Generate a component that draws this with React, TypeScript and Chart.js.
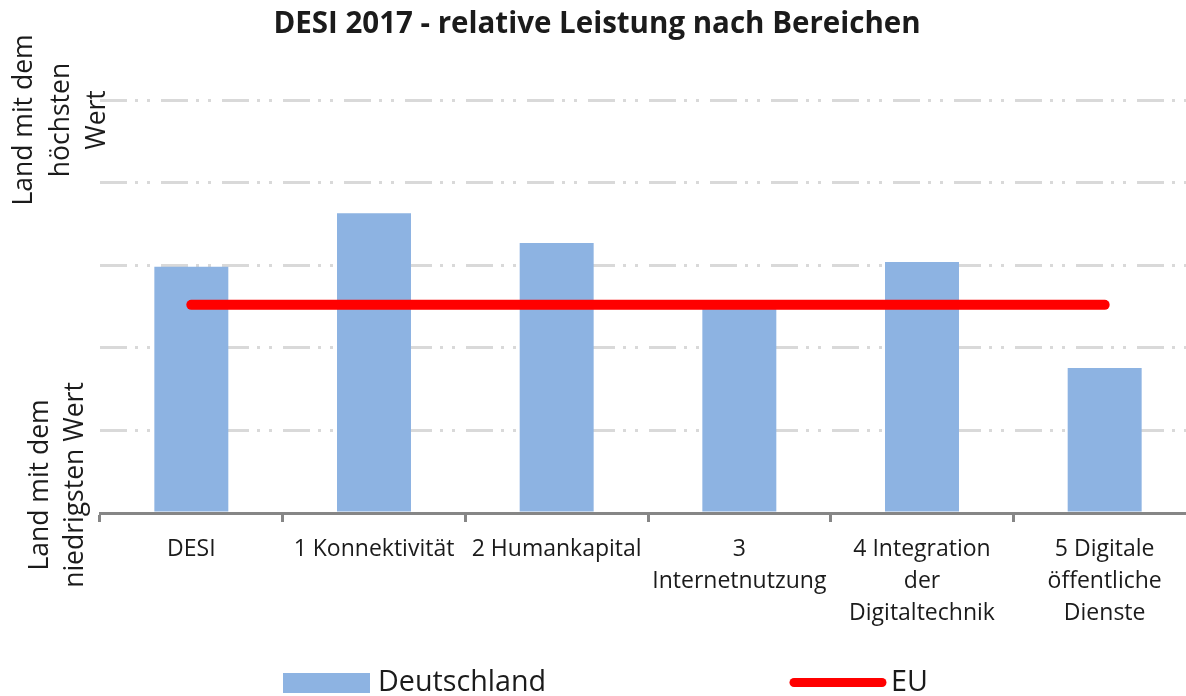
import React, { useEffect, useRef } from "react";
import { Chart, registerables } from "chart.js";

Chart.register(...registerables);

const chartTitle = "DESI 2017 - relative Leistung nach Bereichen";
const categories: string[][] = [
  ["DESI"],
  ["1 Konnektivität"],
  ["2 Humankapital"],
  ["3", "Internetnutzung"],
  ["4 Integration", "der", "Digitaltechnik"],
  ["5 Digitale", "öffentliche", "Dienste"],
];
const seriesNames = ["Deutschland", "EU"];
const deutschlandValues = [0.596, 0.726, 0.654, 0.497, 0.608, 0.351];
const euValues = [0.504, 0.504, 0.504, 0.504, 0.504, 0.504];
const yTopLabel = ["Land mit dem", "höchsten", "Wert"];
const yBottomLabel = ["Land mit dem", "niedrigsten Wert"];
const yTicks = [0, 0.2, 0.4, 0.6, 0.8, 1.0];

const BAR_COLOR = "#8db3e2";
const LINE_COLOR = "#ff0000";
const TEXT_COLOR = "#1b1b1b";
const AXIS_COLOR = "#868686";
const GRID_COLOR = "#d9d9d9";
const FONT = "'Open Sans', Lato, sans-serif";

const decorPlugin = {
  id: "decor",
  afterDraw(chart: any) {
    const ctx: CanvasRenderingContext2D = chart.ctx;
    const y = chart.scales.y;
    ctx.save();
    ctx.fillStyle = TEXT_COLOR;

    // title
    ctx.font = `bold 29.5px ${FONT}`;
    ctx.textAlign = "center";
    ctx.textBaseline = "alphabetic";
    ctx.fillText(chartTitle, 597, 33);

    // rotated y labels
    const drawRotated = (lines: string[], cy: number, x0: number, lh: number) => {
      ctx.font = `26.5px ${FONT}`;
      lines.forEach((line, i) => {
        ctx.save();
        ctx.translate(x0 + i * lh, cy);
        ctx.rotate(-Math.PI / 2);
        ctx.textAlign = "center";
        ctx.textBaseline = "alphabetic";
        ctx.fillText(line, 0, 0);
        ctx.restore();
      });
    };
    drawRotated(yTopLabel, y.getPixelForValue(1) + 20, 32, 36.5);
    drawRotated(yBottomLabel, y.getPixelForValue(0) - 28, 48, 35);

    // legend
    ctx.fillStyle = BAR_COLOR;
    ctx.fillRect(283, 673, 87, 20);
    ctx.fillStyle = TEXT_COLOR;
    ctx.font = `28.7px ${FONT}`;
    ctx.textAlign = "left";
    ctx.fillText(seriesNames[0], 378, 691);

    ctx.strokeStyle = LINE_COLOR;
    ctx.lineWidth = 9;
    ctx.lineCap = "round";
    ctx.beginPath();
    ctx.moveTo(794, 682.5);
    ctx.lineTo(882, 682.5);
    ctx.stroke();
    ctx.fillText(seriesNames[1], 891, 691);
    ctx.restore();
  },
};

export default function App() {
  const canvasRef = useRef<HTMLCanvasElement | null>(null);

  useEffect(() => {
    if (!canvasRef.current) return;
    const chart = new Chart(canvasRef.current, {
      type: "bar",
      data: {
        labels: categories,
        datasets: [
          {
            type: "line",
            label: seriesNames[1],
            data: euValues,
            borderColor: LINE_COLOR,
            backgroundColor: LINE_COLOR,
            borderWidth: 10,
            borderCapStyle: "round",
            pointRadius: 0,
            pointHoverRadius: 0,
            order: 0,
          } as any,
          {
            type: "bar",
            label: seriesNames[0],
            data: deutschlandValues,
            backgroundColor: BAR_COLOR,
            borderWidth: 0,
            categoryPercentage: 1,
            barPercentage: 0.405,
            order: 1,
          },
        ],
      },
      options: {
        responsive: false,
        animation: false,
        devicePixelRatio: 1,
        layout: { padding: { left: 100, top: 100, right: 0, bottom: 50 } },
        plugins: {
          legend: { display: false },
          title: { display: false },
          tooltip: { enabled: false },
        },
        scales: {
          x: {
            afterFit: (scale: any) => {
              scale.height = 133;
            },
            grid: {
              offset: true,
              drawOnChartArea: false,
              drawTicks: true,
              tickLength: 9,
              tickWidth: 3,
              tickColor: AXIS_COLOR,
              color: AXIS_COLOR,
              lineWidth: 3,
            },
            border: { display: true, color: AXIS_COLOR, width: 3 },
            ticks: {
              color: TEXT_COLOR,
              font: { family: FONT, size: 23, lineHeight: "32px" } as any,
              padding: 11,
              maxRotation: 0,
              minRotation: 0,
              autoSkip: false,
            },
          },
          y: {
            min: 0,
            max: 1,
            afterFit: (scale: any) => {
              scale.width = 0;
            },
            afterBuildTicks: (scale: any) => {
              scale.ticks = yTicks.map((v) => ({ value: v }));
            },
            ticks: { display: false },
            grid: {
              drawTicks: false,
              color: (c: any) => (c.tick && c.tick.value === 0 ? "rgba(0,0,0,0)" : GRID_COLOR),
              lineWidth: 3,
            },
            border: { display: false, dash: [27, 8, 3, 9, 3, 11] },
          },
        },
      },
      plugins: [decorPlugin],
    });
    return () => chart.destroy();
  }, []);

  return (
    <div
      style={{
        position: "fixed",
        left: 0,
        top: 0,
        width: 1186,
        height: 696,
        overflow: "hidden",
        background: "#fff",
      }}
    >
      <canvas ref={canvasRef} width={1196} height={696} style={{ display: "block" }} />
    </div>
  );
}
